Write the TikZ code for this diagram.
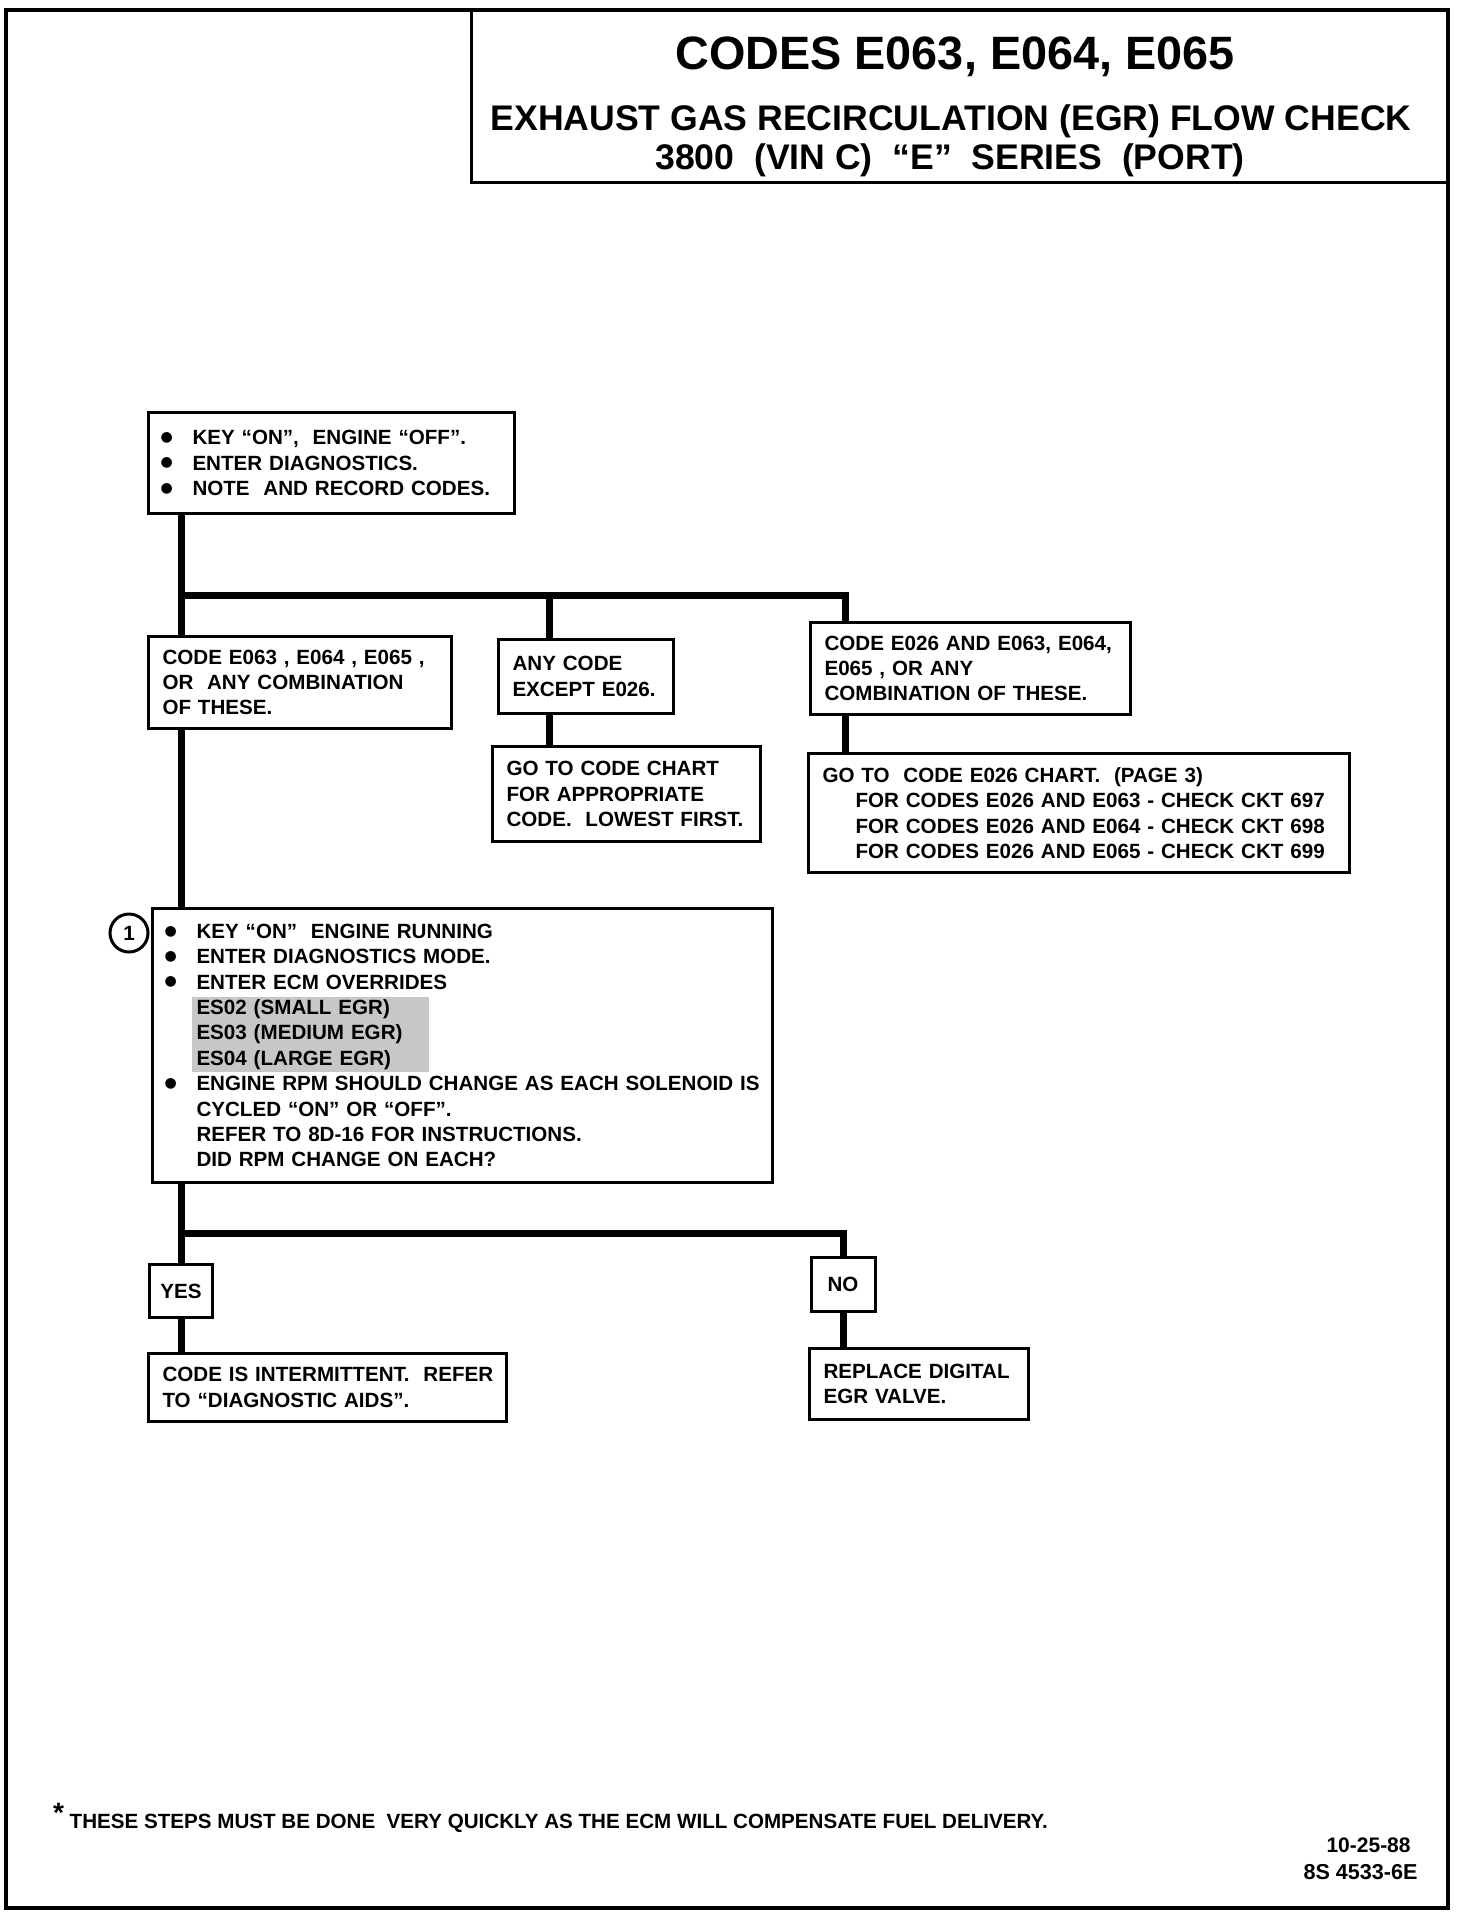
\documentclass[tikz,border=0pt]{standalone}
\usepackage{fontspec}
\setmainfont{Liberation Sans}
\newfontfamily\symfont{DejaVu Sans}
\usetikzlibrary{calc}

\newcommand{\itm}{\makebox[15pt][l]{\hspace*{-1pt}\raisebox{1.6pt}{\symfont\fontsize{7}{8}\selectfont ●}}}
\newcommand{\ind}{\hspace*{15pt}}

\tikzset{
  box/.style={draw, line width=1.5pt, anchor=north west, align=left,
    inner xsep=7pt, font=\bfseries\fontsize{10.3}{12.7}\selectfont},
  tag/.style={draw, line width=1.5pt, inner sep=0pt,
    font=\bfseries\fontsize{10.3}{12.7}\selectfont},
  link/.style={line width=3.5pt},
}

\begin{document}
\begin{tikzpicture}[x=0.5pt, y=-0.5pt]
\useasboundingbox (0,0) rectangle (1472,1916);
% frame and title block
\draw[line width=2.25pt] (6,10) rectangle (1448,1908);
\draw[line width=1.5pt] (471,10) |- (1448,182);
\node[font=\bfseries\fontsize{23.4}{28}\selectfont] (title) at (955,57) {CODES E063, E064, E065};
\node[font=\bfseries\fontsize{17.8}{21}\selectfont] (sub1) at (951,121) {EXHAUST GAS RECIRCULATION (EGR) FLOW CHECK};
\node[font=\bfseries\fontsize{17.8}{21}\selectfont] (sub2) at (950,160) {3800\ \ (VIN C)\ \ “E”\ \ SERIES\ \ (PORT)};

% first step
\node[box, minimum height=50.5pt, text width=169pt] (start) at (147,411)
  {\itm KEY “ON”,\ \ ENGINE “OFF”.\\\itm ENTER DIAGNOSTICS.\\\itm NOTE\ \ AND RECORD CODES.};

\coordinate (trunk) at (181,595);
\coordinate (midx) at (549,595);
\coordinate (rightx) at (845,595);

\node[box, minimum height=46pt, text width=137.5pt] (code) at (147,635)
  {CODE E063 , E064 , E065 ,\\OR\ \ ANY COMBINATION\\OF THESE.};
\node[box, minimum height=37pt, text width=73.5pt] (anyc) at (497,638)
  {ANY CODE\\EXCEPT E026.};
\node[box, minimum height=46pt, text width=146pt] (both) at (809,621)
  {CODE E026 AND E063, E064,\\E065 , OR ANY\\COMBINATION OF THESE.};
\node[box, minimum height=47.5pt, text width=120pt] (goto) at (491,745)
  {GO TO CODE CHART\\FOR APPROPRIATE\\CODE.\ \ LOWEST FIRST.};
\node[box, minimum height=59.5pt, text width=256.5pt] (e026) at (807,752)
  {GO TO\ \ CODE E026 CHART.\ \ (PAGE 3)\\
   \hspace*{16.5pt}FOR CODES E026 AND E063 - CHECK CKT 697\\
   \hspace*{16.5pt}FOR CODES E026 AND E064 - CHECK CKT 698\\
   \hspace*{16.5pt}FOR CODES E026 AND E065 - CHECK CKT 699};

% step 1
\fill[black!22] (192,997) rectangle (429,1072);
\node[box, minimum height=137pt, text width=296pt] (run) at (151,907)
  {\itm KEY “ON”\ \ ENGINE RUNNING\\\itm ENTER DIAGNOSTICS MODE.\\\itm ENTER ECM OVERRIDES\\
   \ind ES02 (SMALL EGR)\\\ind ES03 (MEDIUM EGR)\\\ind ES04 (LARGE EGR)\\
   \mbox{\itm ENGINE RPM SHOULD CHANGE AS EACH SOLENOID IS}\\\ind CYCLED “ON” OR “OFF”.\\
   \ind REFER TO 8D-16 FOR INSTRUCTIONS.\\\ind DID RPM CHANGE ON EACH?};
\node[draw, circle, fill=white, line width=1.5pt, minimum size=19pt, inner sep=0pt,
  font=\bfseries\fontsize{10.3}{12}\selectfont] (one) at (129,933) {1};

\coordinate (split) at (181,1233);
\coordinate (nox) at (843,1233);
\node[tag, minimum width=31.5pt, minimum height=26.5pt] (yes) at (181,1291) {YES};
\node[tag, minimum width=32pt, minimum height=27pt] (no) at (843,1284) {NO};
\node[box, minimum height=34pt, text width=165pt] (inter) at (147,1352)
  {\mbox{CODE IS INTERMITTENT.\ \ REFER}\\TO “DIAGNOSTIC AIDS”.};
\node[box, minimum height=35.5pt, text width=95.5pt] (repl) at (808,1347)
  {REPLACE DIGITAL\\EGR VALVE.};

% connectors
\draw[link] (start.south -| trunk) -- (code.north -| trunk);
\draw[link] (trunk) -- (rightx) -- (both.north -| rightx);
\draw[link] (midx) -- (anyc.north -| midx);
\draw[link] (anyc.south -| midx) -- (goto.north -| midx);
\draw[link] (both.south -| rightx) -- (e026.north -| rightx);
\draw[link] (code.south -| trunk) -- (run.north -| trunk);
\draw[link] (run.south -| split) -- (yes.north);
\draw[link] (split) -- (nox) -- (no.north);
\draw[link] (yes.south) -- (inter.north -| yes);
\draw[link] (no.south) -- (repl.north -| no);

% footer
\node[anchor=west, font=\bfseries\fontsize{10.3}{12}\selectfont] (note) at (46,1818)
  {\raisebox{3pt}{\fontsize{14}{14}\selectfont *}\ THESE STEPS MUST BE DONE\ \ VERY QUICKLY AS THE ECM WILL COMPENSATE FUEL DELIVERY.};
\node[anchor=east, inner sep=0pt, font=\bfseries\fontsize{10.5}{12}\selectfont] (date) at (1411,1845) {10-25-88};
\node[anchor=east, inner sep=0pt, font=\bfseries\fontsize{10.8}{12}\selectfont] (docno) at (1418,1872) {8S 4533-6E};
\end{tikzpicture}
\end{document}
